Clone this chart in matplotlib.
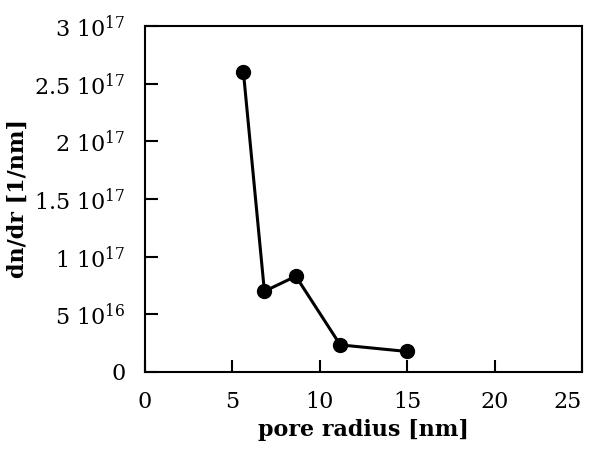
import matplotlib
matplotlib.use("Agg")
import matplotlib.pyplot as plt

# pore size distribution
radius = [5.63, 6.83, 8.63, 11.17, 14.99]
dndr = [2.60e17, 7.0e16, 8.3e16, 2.35e16, 1.78e16]

yticks = [0, 5e16, 1e17, 1.5e17, 2e17, 2.5e17, 3e17]
ytick_labels = ["0", r"5 10$^{16}$", r"1 10$^{17}$", r"1.5 10$^{17}$",
                r"2 10$^{17}$", r"2.5 10$^{17}$", r"3 10$^{17}$"]
xticks = [0, 5, 10, 15, 20, 25]

plt.rcParams['font.family'] = 'DejaVu Serif'
plt.rcParams['mathtext.fontset'] = 'dejavuserif'

fig = plt.figure(figsize=(5.93, 4.49), dpi=100)
ax = fig.add_axes([145 / 593, 1 - 372 / 449, 437 / 593, 346 / 449])

ax.plot(radius, dndr, '-o', color='black', lw=2.2, ms=10)

ax.set_xlim(0, 25)
ax.set_ylim(0, 3e17)
ax.set_xticks(xticks)
ax.set_xticklabels([str(t) for t in xticks])
ax.set_yticks(yticks)
ax.set_yticklabels(ytick_labels)
ax.tick_params(direction='in', length=9, width=1.5, labelsize=16)
ax.tick_params(axis='x', pad=14)
ax.tick_params(axis='y', pad=14)
# last x label sits inside the right edge, like the original
ax.get_xticklabels()[-1].set_horizontalalignment('right')
ax.get_xticklabels()[-1].set_x(25.2)

for s in ax.spines.values():
    s.set_linewidth(1.5)

ax.set_xlabel('pore radius [nm]', fontsize=16, fontweight='bold', labelpad=4)
ax.set_ylabel('dn/dr [1/nm]', fontsize=16, fontweight='bold', labelpad=4)

fig.savefig('out.png', dpi=100)
